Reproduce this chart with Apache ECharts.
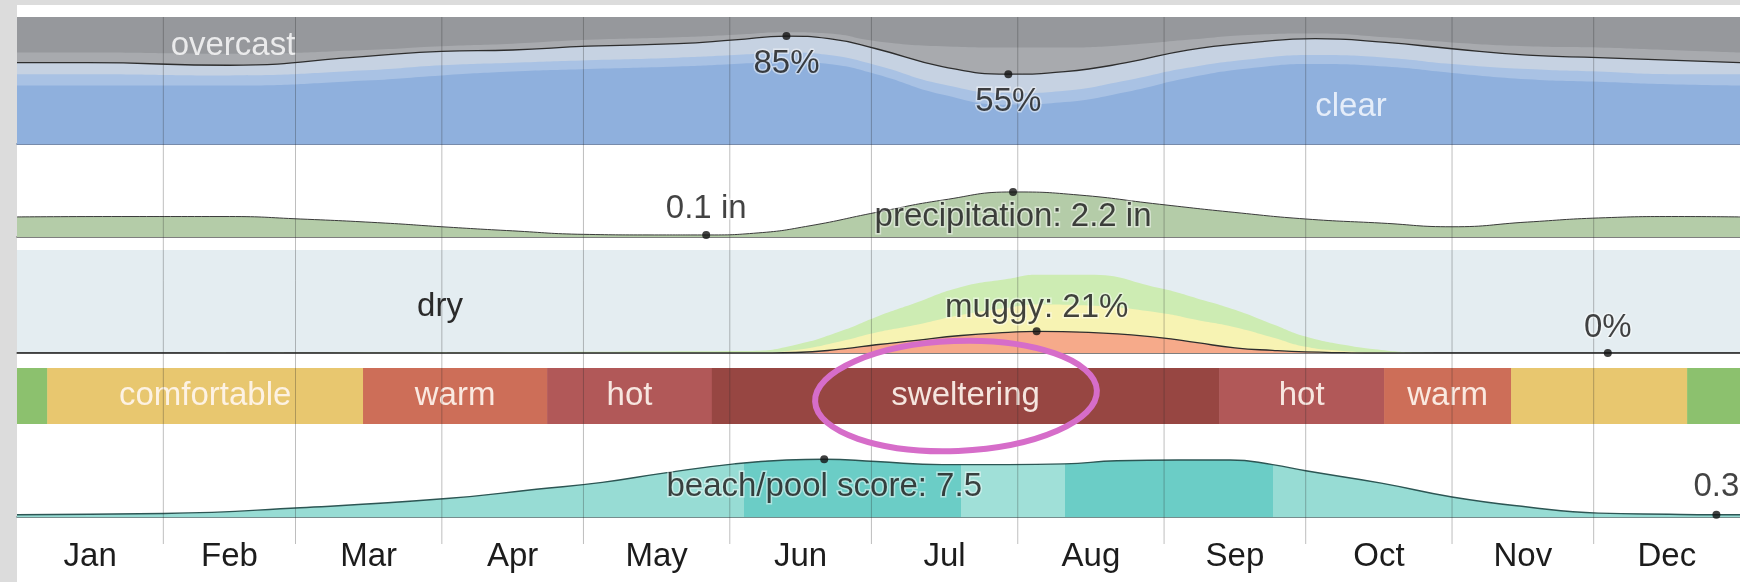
<!DOCTYPE html>
<html><head><meta charset="utf-8">
<script src="https://cdn.jsdelivr.net/npm/echarts@6/dist/echarts.min.js"></script>
<style>html,body{margin:0;padding:0;background:#dcdcdc}#c{width:1740px;height:582px}</style>
</head><body><div id="c"></div>
<script>
// ---------- DATA ----------
const months = ['Jan','Feb','Mar','Apr','May','Jun','Jul','Aug','Sep','Oct','Nov','Dec'];
const monthStartDays = [31,59,90,120,151,181,212,243,273,304,334];
const monthMidDays = [15.5,45,74.5,105,135.5,166,196.5,227.5,258,288.5,319,349.5];

// cloud cover (% of time), day of year
const cloudDays       = [0,15,45,74,90,105,121,140,152,163,172,182,196,210,222,235,248,262,275,290,304,320,335,350,365];
const clearPct        = [46,46,46,50,54,57,59,61,63,65,63,55,39,31,33,41,52,60,63,61,56,51,49,47,46];
const mostlyClearPct  = [9,9,8,8,8,7,7,7,7,7,7,7,8,9,9,9,8,7,7,7,7,8,8,8,9];
const partlyCloudyPct = [9,9,8,11,11,10,11,11,12,13,13,13,14,15,15,14,14,13,13,12,12,11,11,11,9];
const mostlyCloudyPct = [8,8,9,5,4,5,5,5,4,3,4,6,16,21,19,14,8,6,4,4,5,7,8,8,8];
const overcastPct     = [28,28,29,26,23,21,18,16,14,12,13,19,23,24,24,22,18,14,13,16,20,23,24,26,28];
const cloudNotes = [[163,85,'85%'],[210,55,'55%']];

// precipitation (inches, 31-day)
const precipDays   = [0,20,45,60,78,90,105,120,135,146,157,168,182,196,211,225,242,258,273,289,304,320,335,352,365];
const precipInches = [0.98,1.0,1.0,0.88,0.68,0.5,0.3,0.13,0.1,0.1,0.2,0.55,1.2,1.8,2.2,2.05,1.6,1.2,0.88,0.68,0.5,0.73,0.93,1.0,0.98];
const precipNotes = [[146,0.1,'0.1 in'],[211,2.2,'precipitation: 2.2 in']];

// humidity comfort levels (% of time)
const humidDays      = [0,155,165,175,182,190,200,210,216,227,242,250,258,266,273,281,289,297,305,365];
const muggyPct       = [0,0,0.5,4,8,12,17,20,21,20,15,10,5,2.5,1,0.3,0,0,0,0];
const humidPct       = [0,0,2.5,8,12,15,20,24,26,26,24,22,20,12.5,5,1.7,0.5,0,0,0];
const comfortablePct = [0,2,5,10,15,21,27,28,29,30,24,21,17,13,10,6,2.5,0.5,0,0];
const humidNotes = [[216,21,'muggy: 21%'],[337,0,'0%']];

// perceived temperature bands
const tempBandStart = [0,6.4,73.3,112.3,147.2,254.7,289.6,316.5,353.8];
const tempBandEnd   = [6.4,73.3,112.3,147.2,254.7,289.6,316.5,353.8,365];
const tempBandCat   = ['cool','comfortable','warm','hot','sweltering','hot','warm','comfortable','cool'];
const tempBandLabel = ['','comfortable','warm','hot','sweltering','hot','warm','',''];

// beach / pool score (0-10)
const beachDays  = [0,31,60,91,110,124,137,152,163,171,182,196,210,222,233,246,257,266,273,289,304,320,335,350,360,365];
const beachScore = [0.3,0.45,1.2,2.4,3.6,4.5,5.7,6.9,7.4,7.5,7.2,6.8,6.8,6.9,7.3,7.4,7.4,6.8,6.0,4.4,2.6,1.3,0.5,0.35,0.3,0.3];
const beachBestStart = [154,222];
const beachBestEnd   = [200,266];
const beachNotes = [[171,7.5,'beach/pool score: 7.5'],[360,0.3,'0.3']];

// ---------- STYLE / BUILD ----------
const FONT = '"Liberation Sans", Arial, Helvetica, sans-serif';
const SMOOTH = 0.5;
const tempColors = {cool:'#8cc16e', comfortable:'#e8c76f', warm:'#cd6e58', hot:'#b15858', sweltering:'#974642'};
const pair = (xs, ys) => xs.map((x,i)=>[x, ys[i]]);
// running totals = stacked tops of each layer (bottom layer first)
function stackTops(layers){
  const out = []; let acc = layers[0].map(()=>0);
  layers.forEach(l=>{ acc = acc.map((a,i)=>a+l[i]); out.push(acc.slice()); });
  return out;
}
const cloudTops = stackTops([clearPct, mostlyClearPct, partlyCloudyPct, mostlyCloudyPct, overcastPct]);
const humidTops = stackTops([muggyPct, humidPct, comfortablePct]);

function layer(xi, xs, ys, color, line, z){
  return {type:'line', xAxisIndex:xi, yAxisIndex:xi, data:pair(xs,ys),
    smooth:SMOOTH, symbol:'none', z:z, silent:true,
    lineStyle: line ? {color:'#2e2e2e', width:1.3} : {width:0},
    areaStyle:{color, opacity:1}};
}
function noteSeries(xi, notes, positions, distances){
  return {type:'scatter', xAxisIndex:xi, yAxisIndex:xi, z:30, symbolSize:8,
    itemStyle:{color:'#111'},
    data: notes.map((n,i)=>({value:[n[0],n[1]], name:n[2],
      label:{position:positions[i], distance:distances[i]}})),
    label:{show:true, formatter:p=>p.name, fontSize:33, fontFamily:FONT, color:'#141414',
      textBorderColor:'rgba(255,255,255,0.6)', textBorderWidth:3, lineHeight:34}};
}

const gridTops = [17,150,250,368,440,17];
const gridHeights = [127,87,103,56,77,527];
const yMax = [100,4.25,100,1,10,1];
const axisLineColors = ['#4b6690','#555555','#555555',null,'#4a6a69',null];
const cloudColors = ['#8fb0dd','#a9c2e4','#c6d2e2','#a8aaae','#96989c'];
const humidColors = ['#f6aa8a','#f7f3b3','#cdecb3'];

const series = [];
// cloud layers: paint tallest first
for (let k=4;k>=0;k--) series.push(layer(0, cloudDays, cloudTops[k], cloudColors[k], k===2, 2+(4-k)));
series.push(noteSeries(0, cloudNotes, ['bottom','bottom'], [7,7]));

series.push({type:'line', xAxisIndex:1, yAxisIndex:1, data:pair(precipDays,precipInches), smooth:SMOOTH,
  symbol:'none', lineStyle:{color:'#3a3a3a', width:1}, areaStyle:{color:'#b4cca8', opacity:1}});
series.push(noteSeries(1, precipNotes, ['top','bottom'], [5,4]));

for (let k=2;k>=0;k--) series.push(layer(2, humidDays, humidTops[k], humidColors[k], k===0, 2+(2-k)));
series.push(noteSeries(2, humidNotes, ['top','top'], [2,4]));

series.push({type:'custom', xAxisIndex:3, yAxisIndex:3, z:2,
  data: tempBandStart.map((s,i)=>[s, tempBandEnd[i]]),
  encode:{x:[0,1]},
  renderItem:(params, api)=>{
    const i = params.dataIndex;
    const a = api.coord([api.value(0), 1]);
    const b = api.coord([api.value(1), 0]);
    const children = [{type:'rect', shape:{x:a[0], y:a[1], width:b[0]-a[0]+0.5, height:b[1]-a[1]},
      style:{fill:tempColors[tempBandCat[i]]}}];
    if (tempBandLabel[i]) children.push({type:'text', x:(a[0]+b[0])/2, y:(a[1]+b[1])/2,
      style:{text:tempBandLabel[i], fill:'rgba(255,246,240,0.9)', font:'33px '+FONT, align:'center', verticalAlign:'middle'}});
    return {type:'group', children};
  }});

const beachFillIndex = series.length;
series.push({type:'line', xAxisIndex:4, yAxisIndex:4, data:pair(beachDays,beachScore), smooth:SMOOTH,
  symbol:'none', lineStyle:{width:0}, areaStyle:{opacity:1}});
series.push({type:'line', xAxisIndex:4, yAxisIndex:4, data:pair(beachDays,beachScore), smooth:SMOOTH,
  symbol:'none', z:4, lineStyle:{color:'#2d5654', width:1.4}});
series.push(noteSeries(4, beachNotes, ['bottom','top'], [7,7]));

series.push({type:'custom', xAxisIndex:5, yAxisIndex:5, z:20, silent:true,
  data: monthStartDays.map(d=>[d,0]), encode:{x:0, y:1},
  renderItem:(params, api)=>{
    const a = api.coord([api.value(0), 0]);
    const b = api.coord([api.value(0), 1]);
    return {type:'line', shape:{x1:a[0], y1:a[1], x2:b[0], y2:b[1]},
      style:{stroke:'rgba(40,40,40,0.3)', lineWidth:1}};
  }});

const option = {
  animation:false,
  backgroundColor:'#dcdcdc',
  grid: gridTops.map((t,i)=>({left:17, right:0, top:t, height:gridHeights[i],
      show: i===2, backgroundColor:'#e4edf1', borderWidth:0})),
  xAxis: gridTops.map((t,i)=>({type:'value', gridIndex:i, min:0, max:365,
      axisLine:{show: !!axisLineColors[i], onZero:true, lineStyle:{color:axisLineColors[i]||'#000', width:1.5}},
      axisTick:{show:false}, splitLine:{show:false},
      axisLabel: i===5 ? {show:true, customValues:monthMidDays,
          formatter:v=>months[monthMidDays.indexOf(v)], fontSize:33, fontFamily:FONT, color:'#1c1c1c', margin:-4}
        : {show:false}})),
  yAxis: gridTops.map((t,i)=>({type:'value', gridIndex:i, min:0, max:yMax[i], show:false})),
  series,
  visualMap: [{type:'piecewise', show:false, seriesIndex:beachFillIndex, dimension:0,
    pieces: [
      {lt:beachBestStart[0], color:'#97dcd4'},
      {gte:beachBestStart[0], lt:beachBestEnd[0], color:'#6bcdc6'},
      {gte:beachBestEnd[0], lt:beachBestStart[1], color:'#a0e0d8'},
      {gte:beachBestStart[1], lt:beachBestEnd[1], color:'#6bcdc6'},
      {gte:beachBestEnd[1], color:'#97dcd4'}
    ]}],
  graphic: [
    {type:'rect', z:-100, shape:{x:17, y:5, width:1723, height:577}, style:{fill:'#ffffff'}},
    {type:'text', z:50, x:233, y:46, style:{text:'overcast', fill:'rgba(255,255,255,0.8)', font:'33px '+FONT, align:'center', verticalAlign:'middle'}},
    {type:'text', z:50, x:1351, y:107, style:{text:'clear', fill:'rgba(238,244,252,0.9)', font:'33px '+FONT, align:'center', verticalAlign:'middle'}},
    {type:'text', z:50, x:440, y:307, style:{text:'dry', fill:'#2a2a2a', font:'33px '+FONT, align:'center', verticalAlign:'middle'}},
    {type:'ellipse', z:60, x:956, y:396, rotation:0.04, shape:{cx:0, cy:0, rx:141, ry:55},
      style:{fill:'none', stroke:'#d66dc9', lineWidth:6}}
  ]
};
const chart = echarts.init(document.getElementById('c'), null, {renderer:'canvas'});
chart.setOption(option);
</script></body></html>
